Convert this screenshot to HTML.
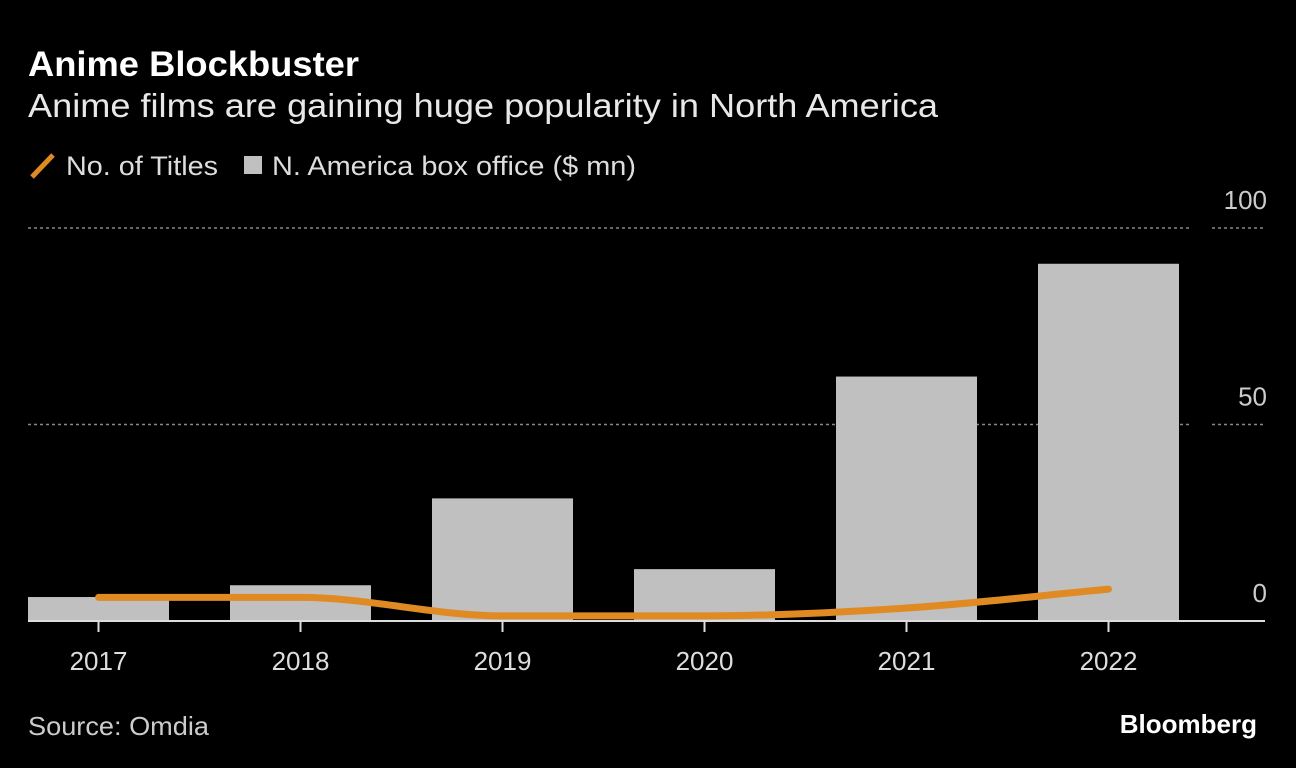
<!DOCTYPE html>
<html><head><meta charset="utf-8"><style>
body{margin:0;background:#000;width:1296px;height:768px;overflow:hidden;font-family:"Liberation Sans",sans-serif;color:#ddd}
</style></head><body>
<svg width="1296" height="768" style="position:absolute;left:0;top:0">
<text x="28" y="76" fill="#fff" font-size="35" font-weight="bold" textLength="331" lengthAdjust="spacingAndGlyphs">Anime Blockbuster</text>
<text x="28" y="117" fill="#e8e8e8" font-size="33" textLength="910" lengthAdjust="spacingAndGlyphs">Anime films are gaining huge popularity in North America</text>
<g>
<line x1="32" y1="177" x2="53" y2="155" stroke="#e08a24" stroke-width="5"/>
<text x="66" y="175" fill="#ddd" font-size="27" textLength="152" lengthAdjust="spacingAndGlyphs">No. of Titles</text>
<rect x="244" y="156" width="18" height="18" fill="#c0c0c0"/>
<text x="272" y="175" fill="#ddd" font-size="27" textLength="364" lengthAdjust="spacingAndGlyphs">N. America box office ($ mn)</text>
</g>
<g id="grid"></g><g id="bars"></g><g id="line"></g><g id="axis"></g>
<text x="28" y="735" fill="#ccc" font-size="26" textLength="181" lengthAdjust="spacingAndGlyphs">Source: Omdia</text>
<text x="1257" y="733" fill="#fff" font-size="26" font-weight="bold" text-anchor="end">Bloomberg</text>
</svg>
<script>
const categories=["2017","2018","2019","2020","2021","2022"];
const boxOffice=[6.1,9.1,31.2,13.2,62.2,90.9];
const titles=[6,6,1.3,1.3,3.3,8.1];
const yTicks=[0,50,100];
const NS="http://www.w3.org/2000/svg";
const x=i=>98.5+i*202, y=v=>621-v*3.93;
function mk(t,a,p){const e=document.createElementNS(NS,t);for(const k in a)e.setAttribute(k,a[k]);document.getElementById(p).appendChild(e);return e;}
yTicks.forEach(t=>{
 if(t>0){let g=mk('line',{x1:28,x2:1192,y1:y(t),y2:y(t),stroke:'#888','stroke-width':1.5,'stroke-dasharray':'3 3'},'grid');
 
 let g2=mk('line',{x1:1212,x2:1265,y1:y(t),y2:y(t),stroke:'#888','stroke-width':1.5,'stroke-dasharray':'3 3'},'grid');
 }
 let l=mk('text',{x:1267,y:y(t)-19,fill:'#ccc','font-size':26,'text-anchor':'end'},'grid');l.textContent=t;
 
});
boxOffice.forEach((v,i)=>{let b=mk('rect',{x:x(i)-70.5,width:141,y:y(v),height:y(0)-y(v),fill:'#c0c0c0'},'bars');
 });
const px=titles.map((v,i)=>x(i)),py=titles.map(v=>y(v)),n=py.length;
const d=[];for(let i=0;i<n-1;i++)d.push((py[i+1]-py[i])/(px[i+1]-px[i]));
const m=[d[0]];for(let i=1;i<n-1;i++)m.push(d[i-1]*d[i]<=0?0:(d[i-1]+d[i])/2);m.push(d[n-2]);
let path='M'+px[0]+','+py[0];
for(let i=0;i<n-1;i++){const h=(px[i+1]-px[i])/3;path+=` C${px[i]+h},${py[i]+m[i]*h} ${px[i+1]-h},${py[i+1]-m[i+1]*h} ${px[i+1]},${py[i+1]}`;}
let ln=mk('path',{d:path,fill:'none',stroke:'#e08a24','stroke-width':7,'stroke-linecap':'round'},'line');

let base=mk('line',{x1:28,x2:1265,y1:y(0),y2:y(0),stroke:'#ddd','stroke-width':2},'axis');

categories.forEach((c,i)=>{let t=mk('line',{x1:x(i),x2:x(i),y1:y(0),y2:y(0)+11,stroke:'#ddd','stroke-width':2},'axis');
 
 let l=mk('text',{x:x(i),y:670,fill:'#ddd','font-size':26,'text-anchor':'middle'},'axis');l.textContent=c;
 });
</script>
</body></html>
